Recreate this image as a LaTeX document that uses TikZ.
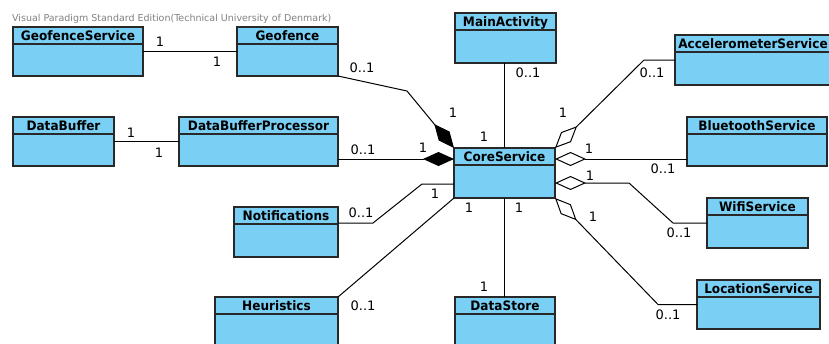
\documentclass[tikz,border=0pt]{standalone}
\usepackage{fontspec}
\setmainfont{DejaVu Sans}
\newfontfamily\clsfont[FakeStretch=0.93]{DejaVu Sans Bold}
\usetikzlibrary{arrows.meta}
\definecolor{clsfill}{RGB}{122,207,245}
\definecolor{clsdraw}{RGB}{40,40,40}
\definecolor{hdrgray}{RGB}{130,130,130}

% class box: id, x1, y1, x2, y2, name (pixel-like units, y grows downward)
\newcommand\classbox[6]{%
  \node[clsbox, minimum width={(#4-#2)*1pt}, minimum height={(#5-#3)*1pt}]
    (#1) at ({(#2+#4)/2},{(#3+#5)/2}) {};
  \draw[clsline] ([yshift=-17pt]#1.north west) -- ([yshift=-17pt]#1.north east);
  \node[clsname] (#1-name) at ([yshift=-13pt]#1.north) {#6};
}

\begin{document}
\begin{tikzpicture}[x=1pt, y=-1pt,
  clsbox/.style={rectangle, draw=clsdraw, fill=clsfill, line width=1.3pt,
                 inner sep=0pt, outer sep=0pt},
  clsline/.style={draw=clsdraw, line width=1.1pt},
  clsname/.style={anchor=base, inner sep=0pt, font=\clsfont\fontsize{13}{13}\selectfont},
  mult/.style={inner sep=0pt, font=\fontsize{13}{13}\selectfont},
  hdr/.style={inner sep=0pt, anchor=west, text=hdrgray, font=\fontsize{9.5}{9.5}\selectfont},
  assoc/.style={draw=black, line width=1pt},
  compos/.style={assoc, -{Diamond[length=31pt, width=14pt, fill=black]}},
  aggr/.style={assoc, -{Diamond[length=31pt, width=14pt, fill=white]}}]

\fill[white] (0,0) rectangle (829,343);
\useasboundingbox (0,0) rectangle (829,343);
\clip (0,0) rectangle (829,343);

\node[hdr] (edition) at (12,19) {Visual Paradigm Standard Edition(Technical University of Denmark)};

% classes
\classbox{gs}{13}{27}{143}{76}{GeofenceService}
\classbox{gf}{237}{27}{338}{76}{Geofence}
\classbox{db}{13}{117}{114}{166}{DataBuffer}
\classbox{dbp}{179}{117}{338}{166}{DataBufferProcessor}
\classbox{ma}{455}{13}{556}{63}{MainActivity}
\classbox{cs}{454}{148}{555}{198}{CoreService}
\classbox{ac}{675}{35}{831}{85}{AccelerometerService}
\classbox{bt}{687}{117}{827}{166}{BluetoothService}
\classbox{wf}{707}{198}{808}{248}{WifiService}
\classbox{ls}{697}{280}{820}{329}{LocationService}
\classbox{nt}{234}{207}{338}{257}{Notifications}
\classbox{hu}{215}{297}{338}{352}{Heuristics}
\classbox{ds}{455}{297}{555}{352}{DataStore}

% helper points on the CoreService border
\coordinate (csDB) at ([yshift=-11pt]cs.north west);
\coordinate (csNT) at ([yshift=-36pt]cs.north west);
\coordinate (csBT) at ([yshift=-11pt]cs.north east);
\coordinate (csWF) at ([yshift=-35pt]cs.north east);
\coordinate (ntR)  at ([yshift=-16pt]nt.north east);

% associations
\draw[assoc] (gs.east) -- (gf.west);
\draw[assoc] (db.east) -- (dbp.west);
\draw[compos] (gf.south east) -- ++(69,15) -- (cs.north west);
\draw[compos] (csDB -| dbp.east) -- (csDB);
\draw[assoc] (ma.south -| cs.north) -- (cs.north);
\draw[aggr] (ac.west) -- ++(-31,0) -- (cs.north east);
\draw[aggr] (csBT -| bt.west) -- (csBT);
\draw[aggr] (wf.west) -- ++(-34,0) -- ++(-44,-40) -- (csWF);
\draw[aggr] (ls.west) -- ++(-39,0) -- (cs.south east);
\draw[assoc] (ntR) -- ++(35,0) -- ++(49,-39) -- (csNT);
\draw[assoc] (hu.north east) -- (cs.south west);
\draw[assoc] (cs.south) -- (cs.south |- ds.north);

% multiplicities
\node[mult] (m1)  at (160,42)  {1};
\node[mult] (m2)  at (217,62)  {1};
\node[mult] (m3)  at (362,68)  {0..1};
\node[mult] (m4)  at (131,133) {1};
\node[mult] (m5)  at (159,153) {1};
\node[mult] (m6)  at (363,150) {0..1};
\node[mult] (m7)  at (453,113) {1};
\node[mult] (m8)  at (423,148) {1};
\node[mult] (m9)  at (484,137) {1};
\node[mult] (m10) at (528,73)  {0..1};
\node[mult] (m11) at (652,73)  {0..1};
\node[mult] (m12) at (563,113) {1};
\node[mult] (m13) at (589,149) {1};
\node[mult] (m14) at (663,169) {0..1};
\node[mult] (m15) at (590,176) {1};
\node[mult] (m16) at (679,233) {0..1};
\node[mult] (m17) at (593,217) {1};
\node[mult] (m18) at (668,315) {0..1};
\node[mult] (m19) at (361,213) {0..1};
\node[mult] (m20) at (435,194) {1};
\node[mult] (m21) at (469,208) {1};
\node[mult] (m22) at (363,306) {0..1};
\node[mult] (m23) at (519,208) {1};
\node[mult] (m24) at (484,287) {1};
\end{tikzpicture}
\end{document}
